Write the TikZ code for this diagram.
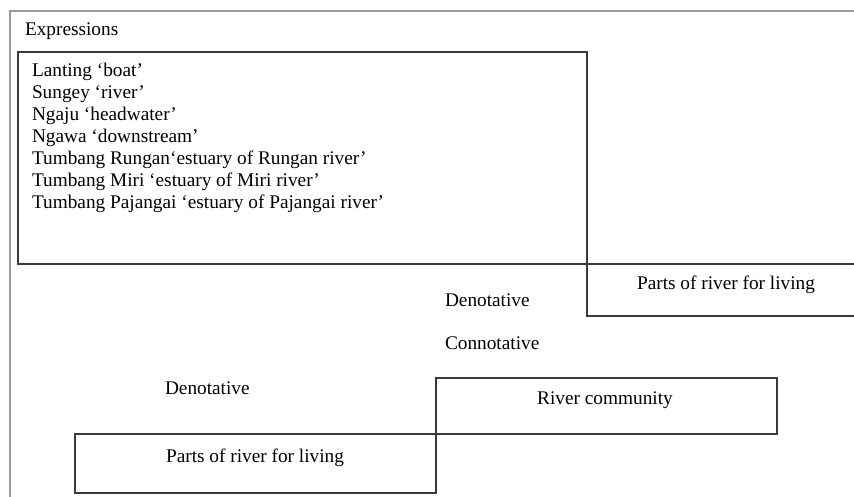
\documentclass[tikz,border=0pt]{standalone}
\usepackage{fontspec}
\setmainfont{Liberation Serif}
\definecolor{boxgray}{HTML}{3A3A3A}
\definecolor{framegray}{HTML}{9A9A9A}
\begin{document}
\begin{tikzpicture}[x=1pt,y=-1pt,
  box/.style={draw=boxgray, line width=1.3pt, inner sep=0pt, outer sep=0pt, anchor=north west},
  edge/.style={draw=boxgray, line width=1.3pt},
  lbl/.style={inner sep=0pt, outer sep=0pt, text=black, font=\fontsize{19.3}{22}\selectfont}]
\useasboundingbox (0,0) rectangle (854,497);
% outer frame
\coordinate (fbl) at (10,497);
\coordinate (ftl) at (10,11);
\coordinate (ftr) at (854,11);
\draw[framegray, line width=1.2pt] (fbl) -- (ftl) -- (ftr);
\node[lbl, anchor=base west] (expr) at (25,36) {Expressions};
% expressions box
\node[box, minimum width=569pt, minimum height=212pt] (exprbox) at (18,52) {};
\foreach \t [count=\i] in {Lanting ‘boat’, Sungey ‘river’, Ngaju ‘headwater’, Ngawa ‘downstream’, Tumbang Rungan‘estuary of Rungan river’, Tumbang Miri ‘estuary of Miri river’, Tumbang Pajangai ‘estuary of Pajangai river’}
  \node[lbl, anchor=base west] (line\i) at (32,{77+22*(\i-1)}) {\t};
% upper parts box (open to the right edge)
\coordinate (er) at (854,264);
\coordinate (pbl) at (587,316);
\coordinate (pbr) at (854,316);
\draw[edge] (exprbox.south east) -- (er);
\draw[edge] (exprbox.south east) -- (pbl) -- (pbr);
\node[lbl, anchor=base] (parts1) at (726,289) {Parts of river for living};
% middle labels
\node[lbl, anchor=base west] (deno1) at (445,306) {Denotative};
\node[lbl, anchor=base west] (conno) at (445,349) {Connotative};
\node[lbl, anchor=base west] (deno2) at (165,394) {Denotative};
% river community box
\node[box, minimum width=341pt, minimum height=56pt] (rcbox) at (436,378) {};
\node[lbl, anchor=base] (rc) at (605,404) {River community};
% lower parts box
\node[box, minimum width=361pt, minimum height=59pt] (pbox) at (75,434) {};
\node[lbl, anchor=base] (parts2) at (255,462) {Parts of river for living};
\end{tikzpicture}
\end{document}
